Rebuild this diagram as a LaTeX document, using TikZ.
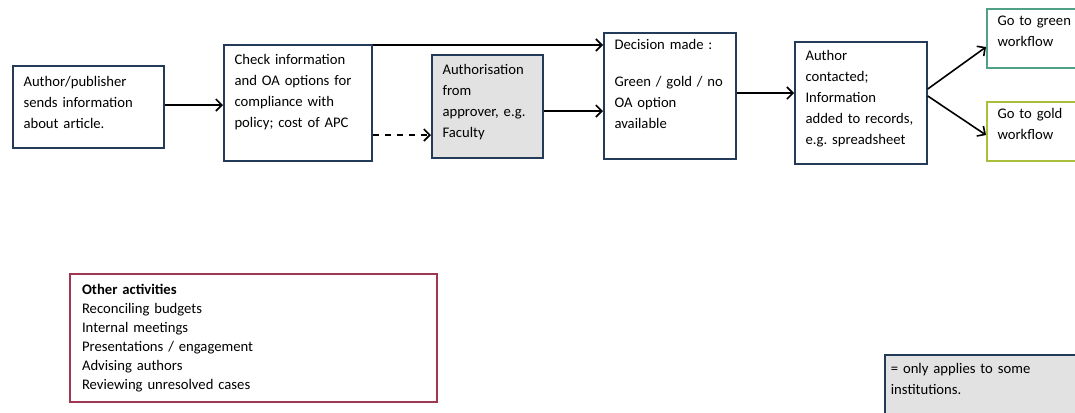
\documentclass[tikz,border=0pt]{standalone}
\usepackage{fontspec}
\setmainfont{Carlito}
\frenchspacing
\usetikzlibrary{shapes,arrows,arrows.meta,positioning,shadows,calc}
\definecolor{boxline}{RGB}{35, 58, 88}
\definecolor{approver}{RGB}{226, 226, 226}
\definecolor{otherline}{RGB}{160, 55, 80}
\definecolor{greenline}{RGB}{80, 160, 135}
\definecolor{goldline}{RGB}{170, 190, 60}
\newcommand{\padlow}[1]{\\[#1]\mbox{}}
\tikzset{
  stepbox/.style={draw=boxline, line width=1.3pt, fill=white, anchor=north west,
    align=left, inner xsep=8pt, inner ysep=0pt, font=\fontsize{11}{15.75}\selectfont,
    drop shadow={shadow xshift=0.8pt, shadow yshift=-0.8pt, opacity=0.3}},
  flow/.style={-{Straight Barb[length=4.5pt, width=9pt]}, line width=1.2pt, black},
}

\begin{document}
\begin{tikzpicture}[x=0.75pt, y=-0.75pt]
\clip (0,0) rectangle (1075,412);
\fill[white] (0,0) rectangle (1075,412);
\node[stepbox, minimum width=113.25pt, minimum height=61.5pt, text width=97.25pt] (author) at (12,65)
  {Author/publisher\\sends information\\about article.\padlow{-9pt}};
\node[stepbox, minimum width=111pt, minimum height=87pt, text width=95pt] (check) at (223,44)
  {Check information\\and OA options for\\compliance with\\policy; cost of APC\padlow{1.75pt}};
\node[stepbox, fill=approver, minimum width=83.25pt, minimum height=77.25pt, text width=67.25pt] (approve) at (431,54)
  {Authorisation\\from\\approver, e.g.\\Faculty\padlow{-7.25pt}};
\node[stepbox, minimum width=99pt, minimum height=94.5pt, text width=83pt] (decision) at (603,32)
  {Decision made :\\[12pt]Green / gold / no\\OA option\\available\padlow{1.75pt}};
\node[stepbox, minimum width=99pt, minimum height=91.5pt, text width=83pt] (contact) at (794,41)
  {Author\\contacted;\\Information\\added to records,\\e.g. spreadsheet\padlow{-7.25pt}};
\node[stepbox, draw=greenline, minimum width=75pt, minimum height=44.25pt, text width=59pt] (green) at (986,8)
  {Go to green\\workflow\padlow{-5pt}};
\node[stepbox, draw=goldline, minimum width=75pt, minimum height=44.25pt, text width=59pt] (gold) at (986,101)
  {Go to gold\\workflow\padlow{-5pt}};
\node[stepbox, draw=otherline, minimum width=275.25pt, minimum height=96pt, text width=257pt,
  inner xsep=9pt, font=\fontsize{11}{14.25}\selectfont] (other) at (69,273)
  {\textbf{Other activities}\\Reconciling budgets\\Internal meetings\\Presentations / engagement\\Advising authors\\Reviewing unresolved cases};
\node[stepbox, fill=approver, minimum width=150pt, minimum height=56pt, text width=141pt, inner xsep=4.5pt] (legend) at (884,354)
  {= only applies to some\\institutions.\padlow{4.75pt}};

\draw[flow] (author.east |- 0,105) -- (check.west |- 0,105);
\draw[flow] (check.east |- 0,45) -- (decision.west |- 0,45);
\draw[flow, dash pattern=on 5pt off 4pt] (check.east |- 0,135) -- (approve.west |- 0,135);
\draw[flow] (approve.east |- 0,111) -- (decision.west |- 0,111);
\draw[flow] (decision.east |- 0,93) -- (contact.west |- 0,93);
\draw[flow] (contact.east |- 0,89) -- (green.west |- 0,47);
\draw[flow] (contact.east |- 0,96) -- (gold.west |- 0,135);
\end{tikzpicture}
\end{document}
